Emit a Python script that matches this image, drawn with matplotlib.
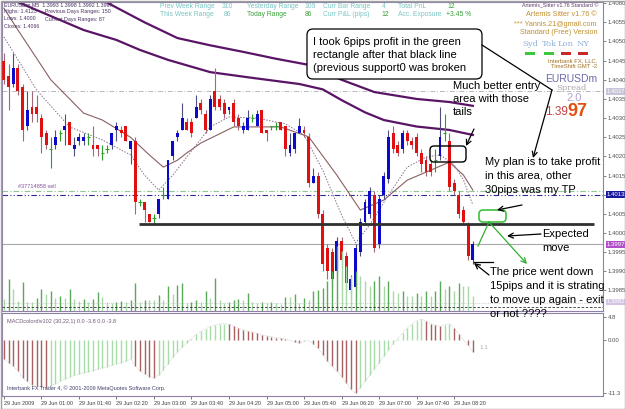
import matplotlib
matplotlib.use("Agg")
import matplotlib.pyplot as plt
import matplotlib.transforms as mtrans
from matplotlib.patches import FancyBboxPatch, Rectangle

plt.rcParams['font.family'] = ['Liberation Sans', 'DejaVu Sans']

W, H = 625, 409
BASE = 1.4000
PIP = 0.0001

# EURUSDm M5 candles, pips above 1.4000
open_pips = [45, 41, 39, 43, 38, 28, 33, 33, 30, 26,
             22, 23, 26, 27, 29, 22, 24, 24, 25, 23,
             23, 21, 22, 23, 27, 27, 28, 22, 24, 8,
             8, 5, 4, 5, 10, 9, 20, 25, 27, 29,
             29, 30, 34, 31, 27, 37, 35, 34, 32, 34,
             30, 27, 27, 30, 28, 32, 27, 28, 28, 29,
             28, 21, 22, 26, 27, 25, 13, 15, 5, -4,
             -5, -10, -2, -6, -15, -14, -5, 3, 5, 10,
             -3, 10, 14, 26, 23, 22, 26, 24, 25, 21,
             19, 18, 19, 20, 26, 24, 13, 10, 6, 2,
             -7]
close_pips = [40, 38, 43, 37, 27, 32, 31, 31, 25, 23,
              22, 25, 26, 28, 23, 23, 25, 25, 25, 22,
              22, 21, 22, 26, 28, 26, 24, 24, 8, 8,
              6, 3, 4, 9, 10, 19, 24, 26, 30, 27,
              26, 33, 32, 27, 35, 33, 33, 31, 33, 29,
              28, 28, 30, 30, 31, 26, 26, 28, 28, 27,
              22, 23, 26, 28, 26, 13, 15, 5, -8, -10,
              -12, -2, -7, -13, -12, -4, 3, 8, 11, -4,
              9, 15, 25, 22, 21, 26, 24, 23, 21, 18,
              16, 16, 19, 25, 26, 12, 11, 5, 3, -6,
              -3]
high_pips = [47, 44, 47, 44, 39, 37, 37, 36, 31, 27,
             25, 27, 27, 31, 29, 25, 26, 26, 26, 28,
             23, 23, 23, 26, 29, 28, 28, 24, 25, 9,
             8, 5, 5, 9, 12, 19, 24, 27, 34, 30,
             30, 36, 35, 32, 36, 43, 36, 35, 33, 35,
             31, 29, 32, 31, 32, 32, 27, 28, 29, 29,
             28, 26, 26, 30, 28, 26, 17, 16, 6, -3,
             -4, -1, -1, -5, -11, -3, 4, 9, 12, 11,
             10, 16, 27, 28, 24, 27, 27, 25, 26, 22,
             20, 19, 22, 33, 31, 26, 14, 11, 7, 3,
             -2]
low_pips = [39, 32, 38, 36, 24, 27, 29, 29, 21, 22,
            17, 22, 24, 23, 23, 20, 23, 23, 23, 20,
            20, 19, 21, 22, 24, 25, 24, 18, 5, 7,
            3, 3, 2, 4, 9, 9, 19, 24, 27, 27,
            25, 30, 31, 26, 27, 32, 32, 30, 31, 28,
            27, 26, 27, 29, 28, 26, 24, 27, 27, 27,
            20, 20, 21, 26, 25, 12, 13, 4, -10, -12,
            -14, -11, -9, -15, -16, -15, -6, 2, 4, -5,
            -4, 9, 13, 21, 20, 21, 23, 22, 20, 16,
            15, 15, 16, 19, 24, 11, 10, 4, 2, -7,
            -8]
volume = [12, 32, 22, 10, 29, 9, 9, 13, 22, 17,
          20, 13, 15, 13, 22, 12, 10, 12, 9, 12,
          19, 14, 9, 8, 9, 10, 9, 11, 28, 9,
          11, 11, 11, 16, 11, 25, 17, 26, 28, 8,
          9, 11, 9, 20, 13, 33, 11, 8, 9, 11,
          12, 11, 18, 9, 8, 9, 8, 9, 8, 7,
          14, 14, 17, 8, 13, 11, 20, 21, 23, 30,
          40, 65, 60, 45, 35, 40, 35, 30, 25, 30,
          35, 25, 30, 20, 18, 20, 15, 15, 18, 15,
          20, 15, 20, 30, 22, 25, 20, 28, 25, 25,
          15]
macd = [-4.1, -4.8, -5.5, -6.5, -8.1, -8.8, -9.5, -9.8, -9.9, -10.1,
        -9.8, -9.3, -8.8, -8.3, -7.9, -7.5, -7.3, -7.0, -6.7, -6.5,
        -6.2, -5.9, -5.7, -5.4, -5.1, -4.8, -4.5, -4.1, -5.5, -6.5,
        -7.3, -7.8, -8.0, -7.5, -6.3, -5.0, -3.7, -2.5, -1.5, -0.6,
        0.3, 1.2, 1.9, 2.3, 2.9, 3.2, 3.4, 3.5, 3.3, 3.0,
        2.5, 2.2, 1.9, 1.7, 1.4, 1.1, 0.9, 0.7, 0.5, 0.4,
        0.2, -0.1, -0.5, -0.6, -0.3, -0.1, -0.8, -1.8, -3.1, -4.5,
        -5.5, -6.6, -7.8, -9.1, -10.5, -11.3, -10.1, -8.8, -7.5, -6.1,
        -4.8, -3.5, -2.1, -0.8, 0.3, 1.5, 2.5, 3.4, 4.1, 4.4,
        4.1, 3.5, 3.2, 2.9, 3.2, 3.5, 2.5, 1.2, 0.0, -1.1,
        -2.5]

# moving averages sampled at bar indices (pips above 1.4000)
ma_fast_idx = [0, 7, 14, 21, 27, 30, 33, 36, 39, 44, 48, 54, 60, 64, 68, 72, 75, 78, 82, 86, 90, 93, 96, 98, 100]
ma_fast = [51.2, 37.3, 27.7, 24.3, 20.4, 15.1, 11.2, 15.1, 19.8, 27.7, 30.3, 30, 28.5, 25.6, 16.4, 4.7, -2.6,
           2.1, 9.9, 17.2, 19.8, 20.4, 17.8, 13.8, 7.3]
ma_mid_idx = [0, 3, 10, 17, 21, 27, 31, 34, 37, 39, 42, 49, 59, 65, 71, 76, 81, 86, 91, 95, 98, 100]
ma_mid = [58.7, 53, 40, 31.3, 29.5, 25, 20.4, 17.2, 19, 20.9, 23.5, 27.7, 27.7, 25.1, 15.1, 6, 8.6, 13.8,
          16.4, 18.5, 15.1, 11.2]
ma_slow1_idx = [0, 2, 17, 24, 29, 35, 44, 53, 63, 68, 72, 77, 81, 88, 95, 100]
ma_slow1 = [62, 60.8, 53, 50.4, 47.8, 45.2, 42, 40.5, 38.9, 37.5, 34.7, 31.5, 29.5, 27.8, 26.9, 25.6]
ma_slow2_idx = [16, 21, 30, 37, 44, 51, 58, 65, 72, 79, 88, 95, 100]
ma_slow2 = [63, 60.8, 55, 50.9, 49, 47.3, 45.5, 43.9, 40, 36.8, 35, 34.2, 33.2]

time_labels = ['29 Jun 2009', '29 Jun 01:00', '29 Jun 01:40', '29 Jun 02:20', '29 Jun 03:00',
               '29 Jun 03:40', '29 Jun 04:20', '29 Jun 05:00', '29 Jun 05:40', '29 Jun 06:20',
               '29 Jun 07:00', '29 Jun 07:40', '29 Jun 08:20']
label_every = 8

support_price = 1.40023
bid_price = 1.3997
order_price = 1.4010
order_tp_line = 1.4011
high_line = 1.4037


def px(p):
    return BASE + p * PIP


n = len(open_pips)
xs = list(range(n))
o = [px(v) for v in open_pips]
c = [px(v) for v in close_pips]
hi = [px(v) for v in high_pips]
lo = [px(v) for v in low_pips]

fig = plt.figure(figsize=(W / 100, H / 100), dpi=100)
fig.patch.set_facecolor('white')

BAR_PX = 4.69
x_left = -0.4
x_right = x_left + 601 / BAR_PX

ax = fig.add_axes([2 / W, 1 - 311 / H, 601 / W, 309 / H])
ax.set_xlim(x_left, x_right)
ax.set_ylim(1.4000 - 78 / 3.83 * PIP, 1.4000 + 231 / 3.83 * PIP)

# volume overlay
axv = fig.add_axes(ax.get_position())
axv.set_xlim(x_left, x_right)
axv.set_ylim(0, 309)
axv.axis('off')
axv.patch.set_alpha(0)
vcol = ['#5aa85a' if i > 0 and volume[i] > volume[i - 1] else '#a8d8a8' for i in range(n)]
axv.vlines(xs, 0, volume, colors=vcol, lw=1)
axv.axhline(8, color='#b0b0b0', lw=0.5, ls=':')
axv.axhline(4, color='#303030', lw=0.6, ls=(0, (3, 2)))

# level lines
ax.axhline(high_line, color='#b8b8c0', lw=0.7, ls=(0, (5, 2, 1, 2)))
ax.axhline(order_tp_line, color='#90c890', lw=0.8, ls=(0, (5, 2, 1, 2)))
ax.axhline(order_price, color='#2a2a90', lw=0.8, ls=(0, (5, 2, 1, 2, 1, 2)))
ax.axhline(bid_price, color='#a8a8a8', lw=0.8)
ax.hlines(support_price, 28.8, 125.8, color='#303030', lw=2, zorder=5)
ax.text(3, order_tp_line + 0.6 * PIP, '#37714858 sell', fontsize=4, color='#8050a0', va='bottom')

# moving averages
ax.plot(ma_slow1_idx, [px(v) for v in ma_slow1], color='#5a1466', lw=1.6)
ax.plot(ma_slow2_idx, [px(v) for v in ma_slow2], color='#5a1466', lw=1.6)
ax.plot(ma_mid_idx, [px(v) for v in ma_mid], color='#8a6060', lw=0.8)
ax.plot(ma_fast_idx, [px(v) for v in ma_fast], color='#8a7090', lw=0.7, ls=(0, (1.5, 1.5)))

# candles
for i in xs:
    if abs(c[i] - o[i]) < 0.5 * PIP:
        ax.vlines(i, lo[i], hi[i], color='#2aa02a', lw=0.8, zorder=4)
        ax.hlines(o[i], i - 0.35, i + 0.35, color='#2aa02a', lw=0.8, zorder=4)
        continue
    bull = c[i] > o[i]
    body = '#0a0ac8' if bull else '#e01010'
    wick = '#505080' if bull else '#a06878'
    ax.vlines(i, lo[i], hi[i], color=wick, lw=0.8, zorder=3)
    ax.bar(i, c[i] - o[i], bottom=o[i], width=0.62, color=body, lw=0, zorder=4)

ax.set_xticks([])
ax.tick_params(axis='x', bottom=False, labelbottom=False)
ax.yaxis.tick_right()
yt = [1.3985 + k * 0.0005 for k in range(16)]
ax.set_yticks(yt)
ax.set_yticklabels(['%.4f' % v for v in yt])
ax.tick_params(axis='y', length=2, pad=1.5, labelsize=4.3, colors='#505050', width=0.5)
for s in ax.spines.values():
    s.set_color('#9080a8')
    s.set_linewidth(0.8)

tr = mtrans.blended_transform_factory(ax.transAxes, ax.transData)
for val, txt, fc in [(high_line, '1.4037', '#c8c4d8'), (1.4010, '1.4013', '#1a1aa0'),
                     (bid_price, '1.3997', '#b050c8'), (1.3982, '1.3982', '#d4c4e4')]:
    ax.text(1.006, val, txt, transform=tr, fontsize=4.3, color='white', va='center', ha='left',
            bbox=dict(boxstyle='square,pad=0.15', fc=fc, ec='none'), clip_on=False, zorder=6)

# MACD window
axm = fig.add_axes([2 / W, 1 - 396 / H, 601 / W, 83 / H])
axm.set_xlim(x_left, x_right)
axm.set_ylim(-11.9, 5.74)
mcol = ['#a8dca8' if i > 0 and macd[i] > macd[i - 1] else '#a86060' for i in range(n)]
axm.vlines(xs, 0, macd, colors=mcol, lw=1)
axm.plot(xs, macd, color='#b8b8b8', lw=0.5, ls=':')
axm.yaxis.tick_right()
axm.set_yticks([4.8, 0, -11.3])
axm.set_yticklabels(['4.8', '0.00', '-11.3'])
axm.tick_params(axis='y', length=2, pad=1.5, labelsize=4.3, colors='#505050', width=0.5)
tick_idx = list(range(0, n, label_every))
axm.set_xticks(tick_idx)
axm.set_xticklabels(time_labels[:len(tick_idx)], ha='left')
axm.tick_params(axis='x', length=2, pad=1.5, labelsize=4, colors='#404040', width=0.5)
for s in axm.spines.values():
    s.set_color('#9080a8')
    s.set_linewidth(0.8)
axm.text(0.008, 0.93, 'MACDcolordiv102 (30,22,1) 0.0 -3.8 0.0 -3.8', transform=axm.transAxes,
         fontsize=4, color='#705878', va='top')
axm.text(0.008, 0.10, 'Interbank FX Trader 4, \u00a9 2001-2009 MetaQuotes Software Corp.',
         transform=axm.transAxes, fontsize=4, color='#404070', va='center')
axm.text(n + 0.3, macd[-1] + 1.0, '1.1', fontsize=4.5, color='#b0b0b0', va='center')

# overlay in pixel units
ov = fig.add_axes([0, 0, 1, 1], zorder=10)
ov.set_xlim(0, W)
ov.set_ylim(H, 0)
ov.axis('off')
ov.patch.set_alpha(0)
ov.add_patch(Rectangle((0.5, 0.5), W - 1, H - 1, fill=False, ec='#a0a0a0', lw=1))


def t(x, y, s, size=3.8, color='#483060', **kw):
    ov.text(x, y, s, fontsize=size, color=color, va='center', ha=kw.pop('ha', 'left'), **kw)


# top-left info
t(4, 5, 'EURUSDm,M5  1.3993 1.3998 1.3992 1.3997')
t(4, 12, 'Highs: 1.4123')
t(45, 12, 'Previous Days Ranges: 150')
t(4, 19, 'Lows: 1.4000')
t(45, 19, 'Current Days Ranges: 87')
t(4, 26, 'Closes: 1.4066')

# range panel
cyan = '#78c4c4'
grn = '#3ca03c'
for x, y, s, col in [(160, 6, 'Prev Week Range', cyan), (222, 6, '310', cyan),
                     (247, 6, 'Yesterday Range', cyan), (304, 6, '109', cyan),
                     (323, 6, 'Curr Bar Range', cyan), (382, 6, '4', cyan),
                     (398, 6, 'Total PnL', cyan), (447, 6, '12', grn),
                     (160, 15, 'This Week Range', cyan), (224, 15, '86', cyan),
                     (247, 15, 'Today Range', grn), (305, 15, '86', grn),
                     (323, 15, 'Curr P&L (pips)', cyan), (381, 15, '12', grn),
                     (398, 15, 'Acc. Exposure', cyan), (446, 15, '+3.45 %', grn)]:
    t(x, y, s, size=4.9, color=col)

# Artemis panel
gold = '#c09030'
t(598, 6, 'Artemis_Sitter v1.76 Standard \u00a9', size=3.8, color='#604070', ha='right')
t(597, 15, 'Artemis Sitter v1.76 \u00a9', size=5.2, color=gold, ha='right')
t(597, 24, '*** Yannis.21@gmail.com', size=5.2, color=gold, ha='right')
t(597, 33, 'Standard (Free) Version', size=5.2, color=gold, ha='right')
for x, s, col in [(530, 'Syd', '#3cc83c'), (549, 'Tok', '#3cc83c'), (566, 'Lon', '#c82828'),
                  (583, 'NY', '#c82828')]:
    ov.text(x, 44, s, fontsize=6, color='#90b0d8', ha='center', va='center', family='DejaVu Serif')
    ov.add_patch(Rectangle((x - 5, 52), 10, 2.6, fc=col, ec='none'))
t(597, 61, 'Interbank FX, LLC.', size=4.2, color='#a07020', ha='right')
t(597, 67, 'TimeShift GMT -2', size=4.2, color='#a07020', ha='right')
t(571, 79, 'EURUSDm', size=7.5, color='#6a6aa8', ha='center')
t(571, 88, 'Spread', size=6, color='#a8a8a8', ha='center', family='DejaVu Serif')
t(574, 98, '2.0', size=8, color='#b0a0d0', ha='center')
t(568, 112, '1.39', size=8.5, color='#c04040', ha='right')
t(567, 111, '97', size=13, color='#e05010', ha='left', weight='bold')

# hand drawn notes
note = dict(size=8, color='black')
ov.add_patch(FancyBboxPatch((307, 29), 175, 50, boxstyle='round,pad=0,rounding_size=6',
                            fc='white', ec='black', lw=0.9))
t(313, 42, 'I took 6pips profit in the green', **note)
t(313, 55, 'rectangle after that black line', **note)
t(313, 68, '(previous support0 was broken', **note)
t(453, 86, 'Much better entry', **note)
t(453, 99, 'area with those', **note)
t(453, 112, 'tails', **note)
t(485, 162, 'My plan is to take profit', **note)
t(485, 176, 'in this area, other', **note)
t(485, 190, '30pips was my TP', **note)
t(542, 234, 'Expected', **note)
t(542, 248, 'move', **note)
t(490, 272, 'The price went down', **note)
t(490, 286, '15pips and it is strating', **note)
t(490, 300, 'to move up again - exit', **note)
t(490, 314, 'or not ????', **note)

ov.add_patch(FancyBboxPatch((430, 146), 36, 16, boxstyle='round,pad=0,rounding_size=4',
                            fc='none', ec='black', lw=1))
ov.add_patch(FancyBboxPatch((479, 210), 27, 12, boxstyle='round,pad=0,rounding_size=4',
                            fc='none', ec='#40c040', lw=1.2))

arrow_k = dict(arrowstyle='->', color='black', lw=0.9, mutation_scale=9, shrinkA=0, shrinkB=0)
ov.plot([482, 552], [45, 90], color='black', lw=0.9)
ov.annotate('', xy=(533, 158), xytext=(552, 90), arrowprops=arrow_k)
ov.annotate('', xy=(466, 146), xytext=(474, 129), arrowprops=arrow_k)
ov.annotate('', xy=(497, 210), xytext=(522, 205), arrowprops=arrow_k)
ov.annotate('', xy=(507, 236), xytext=(541, 234), arrowprops=arrow_k)
ov.plot([474, 493], [262, 262], color='black', lw=0.9)
ov.annotate('', xy=(474, 263), xytext=(489, 275), arrowprops=arrow_k)
arrow_g = dict(arrow_k, color='#30b030')
ov.plot([489, 478], [222, 246], color='#30b030', lw=0.9)
ov.annotate('', xy=(527, 264), xytext=(489, 222), arrowprops=arrow_g)

fig.savefig('out.png', dpi=100)
